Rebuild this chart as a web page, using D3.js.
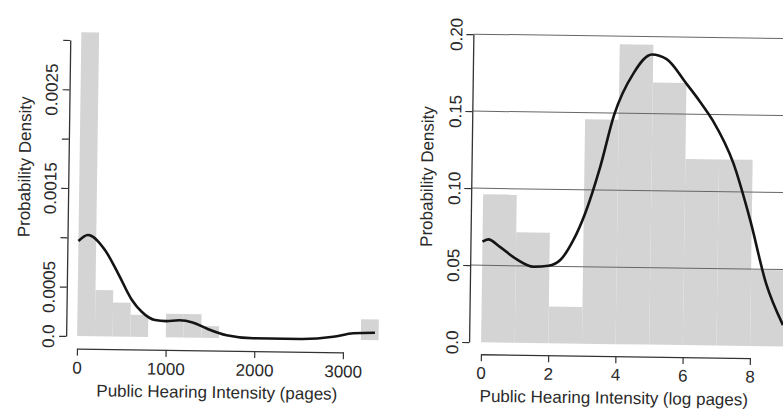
<!DOCTYPE html>
<html>
<head>
<meta charset="utf-8">
<script src="https://cdn.jsdelivr.net/npm/d3@7"></script>
<style>
  html, body { margin: 0; padding: 0; background: #fff; }
  svg { display: block; }
  text { font-family: "Liberation Sans", Arial, Helvetica, sans-serif; fill: #2a2a2a; }
</style>
</head>
<body>
<svg id="chart" width="783" height="409"></svg>
<script>
// ---------- Left panel: pages ----------
const leftBinX0 = [0, 200, 400, 600, 1000, 1200, 1400, 3200];
const leftBinX1 = [200, 400, 600, 800, 1200, 1400, 1600, 3400];
const leftDensity = [0.00308, 0.00047, 0.000345, 0.000223, 0.00024, 0.00024, 0.00012, 0.00021];

const leftCurveX = [0, 106, 300, 450, 612, 727, 875, 1000, 1150, 1300, 1460, 1685, 1986, 2513, 2888, 3114, 3358];
const leftCurveY = [0.000964, 0.001027, 0.000877, 0.000645, 0.000374, 0.000253, 0.000174, 0.000165, 0.000175, 0.000155, 0.000095, 0.00003, 0.000003, 0.000003, 0.00003, 0.000068, 0.000077];

const leftXTicks = [0, 1000, 2000, 3000];
const leftXLabels = ["0", "1000", "2000", "3000"];
const leftYTicks = [0, 0.0005, 0.001, 0.0015, 0.002, 0.0025, 0.003];
const leftYLabels = ["0.0", "0.0005", "", "0.0015", "", "0.0025", ""];
const leftXTitle = "Public Hearing Intensity (pages)";

// ---------- Right panel: log pages ----------
const rightBinX0 = [0, 1, 2, 3, 4, 5, 6, 7, 8];
const rightBinX1 = [1, 2, 3, 4, 5, 6, 7, 8, 9];
const rightDensity = [0.0962, 0.0718, 0.0238, 0.1458, 0.1948, 0.1702, 0.1209, 0.1209, 0.0495];

const rightCurveX = [0, 0.17, 0.52, 1.03, 1.52, 1.97, 2.32, 2.70, 3.04, 3.47, 3.86, 4.42, 4.96, 5.40, 5.99, 6.40, 6.80, 7.43, 7.95, 8.45, 8.97];
const rightCurveY = [0.0653, 0.0669, 0.0621, 0.0541, 0.0495, 0.0503, 0.0541, 0.0671, 0.0846, 0.115, 0.1487, 0.176, 0.1884, 0.1855, 0.1700, 0.1585, 0.1460, 0.1184, 0.0819, 0.0408, 0.0139];

const rightXTicks = [0, 2, 4, 6, 8];
const rightXLabels = ["0", "2", "4", "6", "8"];
const rightYTicks = [0, 0.05, 0.10, 0.15, 0.20];
const rightYLabels = ["0.0", "0.05", "0.10", "0.15", "0.20"];
const rightGrid = [0.05, 0.10, 0.15, 0.20];
const rightXTitle = "Public Hearing Intensity (log pages)";

const yTitle = "Probability Density";

// ---------- Drawing ----------
const svg = d3.select("#chart");
// the reference is a slightly tilted scan
const root = svg.append("g").attr("transform", "rotate(0.8, 391.5, 204.5)");

const BAR = "#d4d4d4";
const FS = 17;

function panel(opt) {
  const g = root.append("g");
  const x = d3.scaleLinear().domain(opt.xDomain).range(opt.xRange);
  const y = d3.scaleLinear().domain(opt.yDomain).range(opt.yRange);

  // bars
  g.append("g").selectAll("rect")
    .data(opt.binX0.map((d, i) => ({ x0: d, x1: opt.binX1[i], v: opt.dens[i] })))
    .join("rect")
    .attr("x", d => x(d.x0))
    .attr("width", d => x(d.x1) - x(d.x0))
    .attr("y", d => y(d.v))
    .attr("height", d => y(0) - y(d.v))
    .attr("fill", BAR);

  // grid lines
  if (opt.grid) {
    g.append("g").selectAll("line")
      .data(opt.grid)
      .join("line")
      .attr("x1", opt.axisX).attr("x2", 820)
      .attr("y1", d => y(d)).attr("y2", d => y(d))
      .attr("stroke", "#666").attr("stroke-width", 1);
  }

  // density curve
  const line = d3.line()
    .x(d => x(d[0])).y(d => y(d[1]))
    .curve(d3.curveMonotoneX);
  g.append("path")
    .datum(opt.cx.map((d, i) => [d, opt.cy[i]]))
    .attr("d", line)
    .attr("fill", "none")
    .attr("stroke", "#141414")
    .attr("stroke-width", 2.6)
    .attr("stroke-linejoin", "round");

  // x axis
  const xa = g.append("g")
    .attr("transform", `translate(0,${opt.axisY})`)
    .call(d3.axisBottom(x).tickValues(opt.xTicks)
      .tickFormat((d, i) => opt.xLabels[i]).tickSize(7).tickSizeOuter(0).tickPadding(8));
  xa.select(".domain").attr("stroke", "#333").attr("stroke-width", 1.3);
  xa.selectAll(".tick line").attr("stroke", "#333").attr("stroke-width", 1.2);
  xa.selectAll("text").attr("font-size", FS).attr("font-family", null).attr("fill", "#2a2a2a")
    .attr("y", 0).attr("dy", 0).attr("transform", `translate(0,${opt.xLabelBase})`);

  // y axis
  const ya = g.append("g")
    .attr("transform", `translate(${opt.axisX},0)`)
    .call(d3.axisLeft(y).tickValues(opt.yTicks)
      .tickFormat((d, i) => opt.yLabels[i]).tickSize(7).tickSizeOuter(0));
  ya.select(".domain").attr("stroke", "#333").attr("stroke-width", 1.3);
  ya.selectAll(".tick line").attr("stroke", "#333").attr("stroke-width", 1.2);
  ya.selectAll("text").attr("font-size", FS).attr("font-family", null).attr("fill", "#2a2a2a")
    .attr("x", 0).attr("y", -opt.yLabelGap).attr("dy", 0)
    .attr("text-anchor", "middle").attr("transform", "rotate(-90)");

  // titles
  g.append("text")
    .attr("x", opt.xTitlePos[0]).attr("y", opt.xTitlePos[1])
    .attr("text-anchor", "middle").attr("font-size", FS)
    .text(opt.xTitle);
  g.append("text")
    .attr("transform", `translate(${opt.yTitlePos[0]},${opt.yTitlePos[1]}) rotate(-90)`)
    .attr("text-anchor", "middle").attr("font-size", FS)
    .text(yTitle);
}

panel({
  xDomain: [0, 3000], xRange: [79, 345],
  yDomain: [0, 0.003], yRange: [340.5, 44.5],
  binX0: leftBinX0, binX1: leftBinX1, dens: leftDensity,
  cx: leftCurveX, cy: leftCurveY,
  axisY: 353, axisX: 68,
  xTicks: leftXTicks, xLabels: leftXLabels,
  yTicks: leftYTicks, yLabels: leftYLabels,
  xLabelBase: 25, yLabelGap: 12,
  xTitle: leftXTitle, xTitlePos: [219.5, 400.5],
  yTitlePos: [30, 172]
});

panel({
  xDomain: [0, 8], xRange: [483, 752],
  yDomain: [0, 0.2], yRange: [341, 33],
  binX0: rightBinX0, binX1: rightBinX1, dens: rightDensity,
  cx: rightCurveX, cy: rightCurveY,
  grid: rightGrid,
  axisY: 353, axisX: 471,
  xTicks: rightXTicks, xLabels: rightXLabels,
  yTicks: rightYTicks, yLabels: rightYLabels,
  xLabelBase: 24.5, yLabelGap: 11,
  xTitle: rightXTitle, xTitlePos: [616.5, 400.5],
  yTitlePos: [432.5, 176]
});
</script>
</body>
</html>
